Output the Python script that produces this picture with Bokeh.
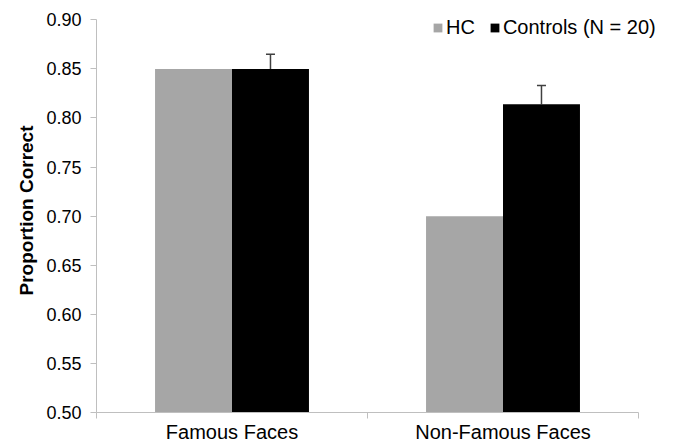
from bokeh.plotting import figure
from bokeh.models import (Range1d, FixedTicker, NumeralTickFormatter, ColumnDataSource,
                          Whisker, TeeHead, Legend, LegendItem)
from bokeh.transform import dodge
from bokeh.embed import file_html
from bokeh.resources import INLINE

# ---- data ----
categories = ["Famous Faces", "Non-Famous Faces"]
series_names = ["HC", "Controls (N = 20)"]
hc_values = [0.850, 0.700]
control_values = [0.850, 0.814]
control_errors = [0.015, 0.019]
y_ticks = [0.50, 0.55, 0.60, 0.65, 0.70, 0.75, 0.80, 0.85, 0.90]

FONT = "Liberation Sans"
BAR_W = 0.284
X_END = len(categories)
Y_MIN, Y_MAX = y_ticks[0], y_ticks[-1]

x_centers = [i + 0.5 for i in range(len(categories))]
src = ColumnDataSource(dict(
    x=x_centers,
    hc=hc_values,
    ctrl=control_values,
    upper=[v + e for v, e in zip(control_values, control_errors)],
    cx=[c + BAR_W / 2 for c in x_centers],
))

# frame extends a little beyond the axes (right/top) so the legend is not clipped
p = figure(width=675, height=446,
           x_range=Range1d(0, X_END * 566 / 542),
           y_range=Range1d(Y_MIN, Y_MAX + (Y_MAX - Y_MIN) * 11.3 / 392.7),
           output_backend="svg", toolbar_location=None,
           min_border_left=96, min_border_right=13,
           min_border_top=8, min_border_bottom=34)

gray = p.vbar(x=dodge('x', -BAR_W / 2), top='hc', bottom=0, width=BAR_W,
              source=src, fill_color="#a6a6a6", line_color=None)
black = p.vbar(x=dodge('x', BAR_W / 2), top='ctrl', bottom=0, width=BAR_W,
               source=src, fill_color="#000000", line_color=None)

wh = Whisker(base='cx', upper='upper', lower='ctrl', source=src,
             line_color="#404040", line_width=1.5,
             upper_head=TeeHead(size=9, line_color="#404040", line_width=1.5),
             lower_head=None)
p.add_layout(wh)

legend = Legend(items=[LegendItem(label=series_names[0], renderers=[gray]),
                       LegendItem(label=series_names[1], renderers=[black])],
                orientation="horizontal", location=(336, 373),
                glyph_width=11, glyph_height=11, label_standoff=3, spacing=14,
                padding=0, margin=0, border_line_color=None,
                background_fill_alpha=0,
                label_text_font=FONT, label_text_font_size="20px",
                label_text_color="#000000", label_height=20)
p.add_layout(legend)

# x axis
p.xaxis.bounds = (0, X_END)
p.xaxis.ticker = FixedTicker(ticks=x_centers, minor_ticks=list(range(len(categories) + 1)))
p.xaxis.major_label_overrides = {c: n for c, n in zip(x_centers, categories)}
p.xaxis.axis_line_color = "#bfbfbf"
p.xaxis.major_tick_out = 0
p.xaxis.major_tick_in = 0
p.xaxis.minor_tick_out = 6
p.xaxis.minor_tick_in = 0
p.xaxis.minor_tick_line_color = "#bfbfbf"
p.xaxis.major_label_text_font = FONT
p.xaxis.major_label_text_font_size = "20px"
p.xaxis.major_label_text_color = "#000000"
p.xaxis.major_label_standoff = 2

# y axis
p.yaxis.bounds = (Y_MIN, Y_MAX)
p.yaxis.ticker = FixedTicker(ticks=y_ticks)
p.yaxis.formatter = NumeralTickFormatter(format="0.00")
p.yaxis.axis_line_color = "#bfbfbf"
p.yaxis.major_tick_line_color = "#bfbfbf"
p.yaxis.major_tick_out = 6
p.yaxis.major_tick_in = 0
p.yaxis.minor_tick_line_color = None
p.yaxis.major_label_text_font = FONT
p.yaxis.major_label_text_font_size = "18px"
p.yaxis.major_label_text_color = "#000000"
p.yaxis.major_label_standoff = 9
p.yaxis.axis_label = "Proportion Correct"
p.yaxis.axis_label_text_font = FONT
p.yaxis.axis_label_text_font_size = "19px"
p.yaxis.axis_label_text_font_style = "bold"
p.yaxis.axis_label_text_color = "#000000"
p.yaxis.axis_label_standoff = 6

p.xgrid.visible = False
p.ygrid.visible = False
p.outline_line_color = None

open("out.html", "w").write(file_html(p, INLINE))
